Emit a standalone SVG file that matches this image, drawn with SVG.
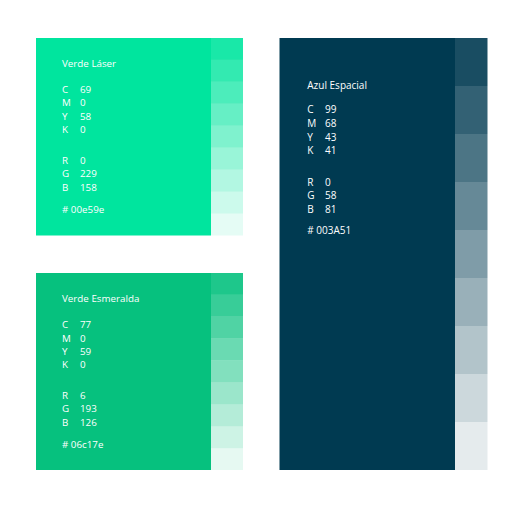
<svg xmlns="http://www.w3.org/2000/svg" width="524" height="509" viewBox="0 0 524 509">
<style>
text{font-family:"Open Sans","Liberation Sans",sans-serif;font-size:9.8px;fill:#ffffff}
.blue text{font-size:10px}
</style>
<rect width="524" height="509" fill="#ffffff"/>
<g id="verde-laser">
<rect x="36" y="38" width="175" height="197.5" fill="#00e59e"/>
<g fill="#00e59e">
<rect x="211" y="38" width="32" height="21.95" opacity="0.9"/>
<rect x="211" y="59.95" width="32" height="21.95" opacity="0.8"/>
<rect x="211" y="81.9" width="32" height="21.95" opacity="0.7"/>
<rect x="211" y="103.85" width="32" height="21.95" opacity="0.6"/>
<rect x="211" y="125.8" width="32" height="21.95" opacity="0.5"/>
<rect x="211" y="147.75" width="32" height="21.95" opacity="0.4"/>
<rect x="211" y="169.7" width="32" height="21.95" opacity="0.3"/>
<rect x="211" y="191.65" width="32" height="21.95" opacity="0.2"/>
<rect x="211" y="213.6" width="32" height="21.9" opacity="0.1"/>
</g>
<text x="62" y="67.3">Verde Láser</text>
<text x="62" y="93">C</text><text x="80" y="93">69</text>
<text x="62" y="106.3">M</text><text x="80" y="106.3">0</text>
<text x="62" y="119.6">Y</text><text x="80" y="119.6">58</text>
<text x="62" y="132.9">K</text><text x="80" y="132.9">0</text>
<text x="62" y="164">R</text><text x="80" y="164">0</text>
<text x="62" y="177.3">G</text><text x="80" y="177.3">229</text>
<text x="62" y="190.6">B</text><text x="80" y="190.6">158</text>
<text x="62" y="213.3"># 00e59e</text>
</g>
<g id="verde-esmeralda">
<rect x="36" y="273" width="175" height="197" fill="#06c17e"/>
<g fill="#06c17e">
<rect x="211" y="273" width="32" height="21.9" opacity="0.9"/>
<rect x="211" y="294.9" width="32" height="21.9" opacity="0.8"/>
<rect x="211" y="316.8" width="32" height="21.9" opacity="0.7"/>
<rect x="211" y="338.7" width="32" height="21.9" opacity="0.6"/>
<rect x="211" y="360.6" width="32" height="21.9" opacity="0.5"/>
<rect x="211" y="382.5" width="32" height="21.9" opacity="0.4"/>
<rect x="211" y="404.4" width="32" height="21.9" opacity="0.3"/>
<rect x="211" y="426.3" width="32" height="21.9" opacity="0.2"/>
<rect x="211" y="448.2" width="32" height="21.8" opacity="0.1"/>
</g>
<text x="62" y="302.3">Verde Esmeralda</text>
<text x="62" y="328.3">C</text><text x="80" y="328.3">77</text>
<text x="62" y="341.5">M</text><text x="80" y="341.5">0</text>
<text x="62" y="354.7">Y</text><text x="80" y="354.7">59</text>
<text x="62" y="367.9">K</text><text x="80" y="367.9">0</text>
<text x="62" y="398.8">R</text><text x="80" y="398.8">6</text>
<text x="62" y="412.3">G</text><text x="80" y="412.3">193</text>
<text x="62" y="425.8">B</text><text x="80" y="425.8">126</text>
<text x="62" y="448.3"># 06c17e</text>
</g>
<g id="azul-espacial" class="blue">
<rect x="279.5" y="38" width="175.5" height="432" fill="#003a51"/>
<g fill="#003a51">
<rect x="455" y="38" width="32.5" height="48" opacity="0.9"/>
<rect x="455" y="86" width="32.5" height="48" opacity="0.8"/>
<rect x="455" y="134" width="32.5" height="48" opacity="0.7"/>
<rect x="455" y="182" width="32.5" height="48" opacity="0.6"/>
<rect x="455" y="230" width="32.5" height="48" opacity="0.5"/>
<rect x="455" y="278" width="32.5" height="48" opacity="0.4"/>
<rect x="455" y="326" width="32.5" height="48" opacity="0.3"/>
<rect x="455" y="374" width="32.5" height="48" opacity="0.2"/>
<rect x="455" y="422" width="32.5" height="48" opacity="0.1"/>
</g>
<text x="307.3" y="89">Azul Espacial</text>
<text x="307.3" y="112.7">C</text><text x="325" y="112.7">99</text>
<text x="307.3" y="126.6">M</text><text x="325" y="126.6">68</text>
<text x="307.3" y="140.5">Y</text><text x="325" y="140.5">43</text>
<text x="307.3" y="154.3">K</text><text x="325" y="154.3">41</text>
<text x="307.3" y="185.7">R</text><text x="325" y="185.7">0</text>
<text x="307.3" y="199.2">G</text><text x="325" y="199.2">58</text>
<text x="307.3" y="212.7">B</text><text x="325" y="212.7">81</text>
<text x="307.3" y="234"># 003A51</text>
</g>
</svg>
